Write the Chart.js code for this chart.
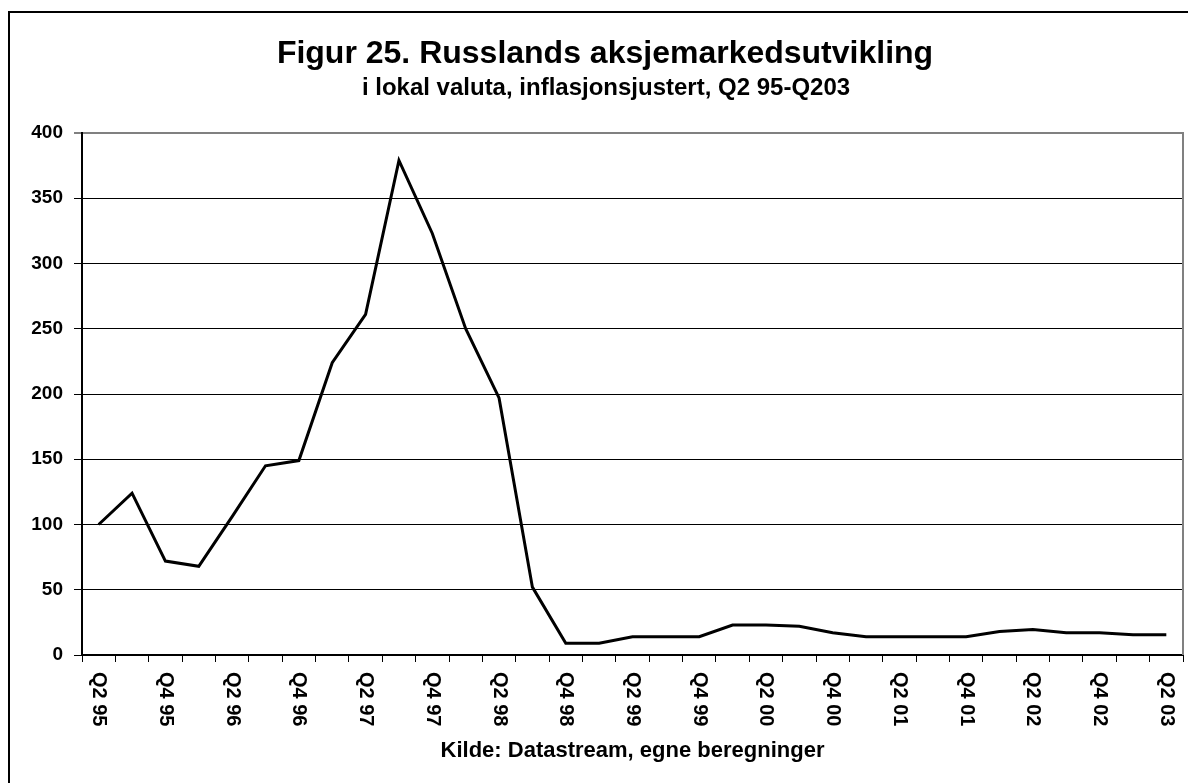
<!DOCTYPE html>
<html>
<head>
<meta charset="utf-8">
<title>Figur 25</title>
<script src="https://cdn.jsdelivr.net/npm/chart.js@4/dist/chart.umd.min.js"></script>
<style>
    body { margin: 0; background: #fff; }
    #wrap { width: 1188px; height: 783px; }
</style>
</head>
<body>
<div id="wrap"><canvas id="myChart" width="1188" height="783"></canvas></div>
<script>
const quarters = [
    "Q2 95", "Q3 95", "Q4 95", "Q1 96", "Q2 96", "Q3 96", "Q4 96",
    "Q1 97", "Q2 97", "Q3 97", "Q4 97", "Q1 98", "Q2 98", "Q3 98", "Q4 98",
    "Q1 99", "Q2 99", "Q3 99", "Q4 99", "Q1 00", "Q2 00", "Q3 00", "Q4 00",
    "Q1 01", "Q2 01", "Q3 01", "Q4 01", "Q1 02", "Q2 02", "Q3 02", "Q4 02",
    "Q1 03", "Q2 03"
];
const indexValues = [
    100, 124, 72, 68, 106, 145, 149,
    224, 261, 379, 323, 250, 197, 52, 9,
    9, 14, 14, 14, 23, 23, 22, 17,
    14, 14, 14, 14, 18, 19.5, 17, 17,
    15.5, 15.5
];
const yTickValues = [0, 50, 100, 150, 200, 250, 300, 350, 400];

const titleText = "Figur 25. Russlands aksjemarkedsutvikling";
const subtitleText = "i lokal valuta, inflasjonsjustert, Q2 95-Q203";
const sourceText = "Kilde: Datastream, egne beregninger";

const fontFamily = '"Liberation Sans", Arial, sans-serif';

const chartText = {
    id: "chartText",
    beforeDraw(chart) {
        const ctx = chart.ctx;
        ctx.save();
        ctx.fillStyle = "#fff";
        ctx.fillRect(0, 0, chart.width, chart.height);
        // outer frame, runs off the right and bottom edge
        ctx.strokeStyle = "#000";
        ctx.lineWidth = 2;
        ctx.strokeRect(9, 12, 1400, 1000);
        ctx.restore();
    },
    beforeDatasetsDraw(chart) {
        const ctx = chart.ctx;
        const area = chart.chartArea;
        ctx.save();
        ctx.strokeStyle = "#808080";
        ctx.lineWidth = 2;
        ctx.beginPath();
        ctx.moveTo(area.right, area.top - 1);
        ctx.lineTo(area.right, area.bottom);
        ctx.stroke();
        ctx.restore();
    },
    afterDraw(chart) {
        const ctx = chart.ctx;
        const area = chart.chartArea;
        const xScale = chart.scales.x;
        ctx.save();
        ctx.fillStyle = "#000";

        // x labels read top to bottom, every second quarter
        ctx.font = "bold 20px " + fontFamily;
        ctx.textAlign = "left";
        ctx.textBaseline = "middle";
        quarters.forEach((q, i) => {
            if (i % 2 !== 0) return;
            const x = xScale.getPixelForValue(i);
            ctx.save();
            ctx.translate(x, area.bottom + 17);
            ctx.rotate(Math.PI / 2);
            ctx.fillText(q, 0, 0);
            ctx.restore();
        });

        ctx.textAlign = "center";
        ctx.textBaseline = "alphabetic";
        ctx.font = "bold 32px " + fontFamily;
        ctx.fillText(titleText, 605, 63);
        ctx.font = "bold 24px " + fontFamily;
        ctx.fillText(subtitleText, 606, 95);
        ctx.font = "bold 22px " + fontFamily;
        ctx.fillText(sourceText, (area.left + area.right) / 2, 757);
        ctx.restore();
    }
};

const ctx = document.getElementById("myChart");

const myChart = new Chart(ctx, {
    type: "line",
    data: {
        labels: quarters,
        datasets: [
            {
                label: "Aksjeindeks",
                data: indexValues,
                borderColor: "#000",
                borderWidth: 3,
                pointRadius: 0,
                tension: 0,
                fill: false
            }
        ]
    },
    options: {
        responsive: false,
        animation: false,
        devicePixelRatio: 1,
        layout: {
            padding: { top: 133, right: 5, bottom: 0, left: 0 }
        },
        plugins: {
            legend: { display: false },
            tooltip: { enabled: false }
        },
        scales: {
            x: {
                type: "category",
                offset: true,
                ticks: { display: false },
                grid: {
                    offset: true,
                    drawOnChartArea: false,
                    drawTicks: true,
                    tickLength: 7,
                    color: "#000",
                    lineWidth: 1
                },
                border: { color: "#000", width: 2 },
                afterFit(scale) {
                    scale.height = 128;
                }
            },
            y: {
                min: 0,
                max: 400,
                afterBuildTicks(scale) {
                    scale.ticks = yTickValues.map(v => ({ value: v }));
                },
                ticks: {
                    color: "#000",
                    padding: 11,
                    font: { family: fontFamily, size: 19, weight: "bold" }
                },
                grid: {
                    tickLength: 8,
                    color: c => (c.tick && c.tick.value === 400 ? "#808080" : "#000"),
                    lineWidth: c => (c.tick && c.tick.value === 400 ? 2 : 1)
                },
                border: { color: "#000", width: 2 },
                afterFit(scale) {
                    scale.width = 82;
                }
            }
        }
    },
    plugins: [chartText]
});
</script>
</body>
</html>
